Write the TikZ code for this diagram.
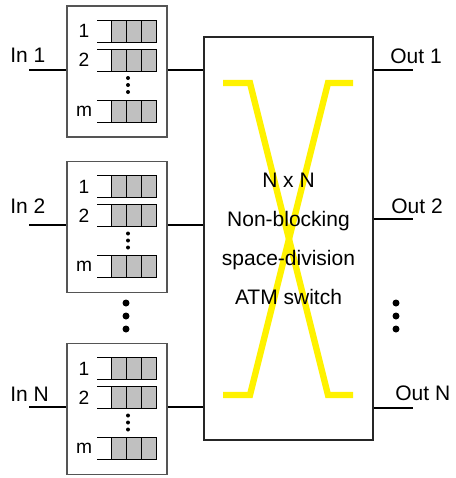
\documentclass[tikz,border=0pt]{standalone}
\usepackage{fontspec}
\setmainfont{Liberation Sans}
\usepackage{tikz}
\usetikzlibrary{positioning}
\usepackage{xcolor}
\definecolor{cellgray}{RGB}{192,192,192}
\definecolor{framegray}{RGB}{85,85,85}

\begin{document}
\begin{tikzpicture}[x=0.5pt,y=-0.5pt,
  lbl/.style={font=\fontsize{10.5}{12}\selectfont,inner sep=0pt},
  qlbl/.style={font=\fontsize{9.6}{11}\selectfont,inner sep=0pt},
  buffer/.style={draw=framegray,line width=0.6pt,minimum width=50pt,minimum height=65.5pt,inner sep=0pt},
  switchbox/.style={draw=black!85,line width=0.6pt,minimum width=84.5pt,minimum height=201.5pt,inner sep=0pt},
  wire/.style={line width=1pt},
  xbar/.style={yellow,line width=3.2pt,line join=miter},
  queue/.pic={
    \node[qlbl] (-n) at (-33,0) {#1};
    \draw[line width=0.5pt] (-20,-11) -- (39,-11) (-20,11) -- (39,11);
    \draw[line width=0.5pt,fill=cellgray] (-6,-11) rectangle (39,11);
    \draw[line width=0.5pt] (9,-11) -- (9,11) (24,-11) -- (24,11);
  },
  bank/.pic={
    \pic (-q1) at (0,-40.5) {queue=1};
    \pic (-q2) at (0,-11.5) {queue=2};
    \pic (-qm) at (0,39.5) {queue=m};
    \fill (11,6.5) circle (1pt);
    \fill (11,13.5) circle (1pt);
    \fill (11,20.5) circle (1pt);
  }]
\useasboundingbox (0,0) rectangle (456,478);

% input buffers
\node[buffer] (buf1) at (117,71.5) {};
\node[buffer] (buf2) at (117,227) {};
\node[buffer] (bufN) at (117,409) {};
\pic (bank1) at (buf1.center) {bank};
\pic (bank2) at (buf2.center) {bank};
\pic (bankN) at (bufN.center) {bank};

% switch fabric
\node[switchbox] (sw) at (288.5,238.5) {};
\draw[xbar] (223,83) -- (250,83) -- (328,395) -- (353,395);
\draw[xbar] (353,83) -- (328,83) -- (250,395) -- (223,395);
\node[lbl,align=center,font=\fontsize{10.5}{19.5}\selectfont] (swlbl) at (sw.center)
  {N x N\\Non-blocking\\space-division\\ATM switch};

% inputs
\coordinate (in1) at (29,70);
\coordinate (in2) at (29,225);
\coordinate (inN) at (29,407);
\draw[wire] (in1) -- (in1 -| buf1.west);
\draw[wire] (in2) -- (in2 -| buf2.west);
\draw[wire] (inN) -- (inN -| bufN.west);
\node[lbl,anchor=base west] (in1lbl) at (10,62) {In 1};
\node[lbl,anchor=base west] (in2lbl) at (10,213) {In 2};
\node[lbl,anchor=base west] (inNlbl) at (10,401) {In N};

% buffers to switch
\draw[wire] (in1 -| buf1.east) -- (in1 -| sw.west);
\draw[wire] (in2 -| buf2.east) -- (in2 -| sw.west);
\draw[wire] (inN -| bufN.east) -- (inN -| sw.west);

% outputs
\coordinate (out1) at (413,70);
\coordinate (out2) at (413,219);
\coordinate (outN) at (413,408);
\draw[wire] (out1 -| sw.east) -- (out1);
\draw[wire] (out2 -| sw.east) -- (out2);
\draw[wire] (outN -| sw.east) -- (outN);
\node[lbl,anchor=base west] (out1lbl) at (390,63) {Out 1};
\node[lbl,anchor=base west] (out2lbl) at (391,213) {Out 2};
\node[lbl,anchor=base west] (outNlbl) at (395,400) {Out N};

% ellipses
\fill (126,303) circle (1.75pt);
\fill (126,316) circle (1.75pt);
\fill (126,329) circle (1.75pt);
\fill (396,303) circle (1.75pt);
\fill (396,316) circle (1.75pt);
\fill (396,329) circle (1.75pt);
\end{tikzpicture}
\end{document}
